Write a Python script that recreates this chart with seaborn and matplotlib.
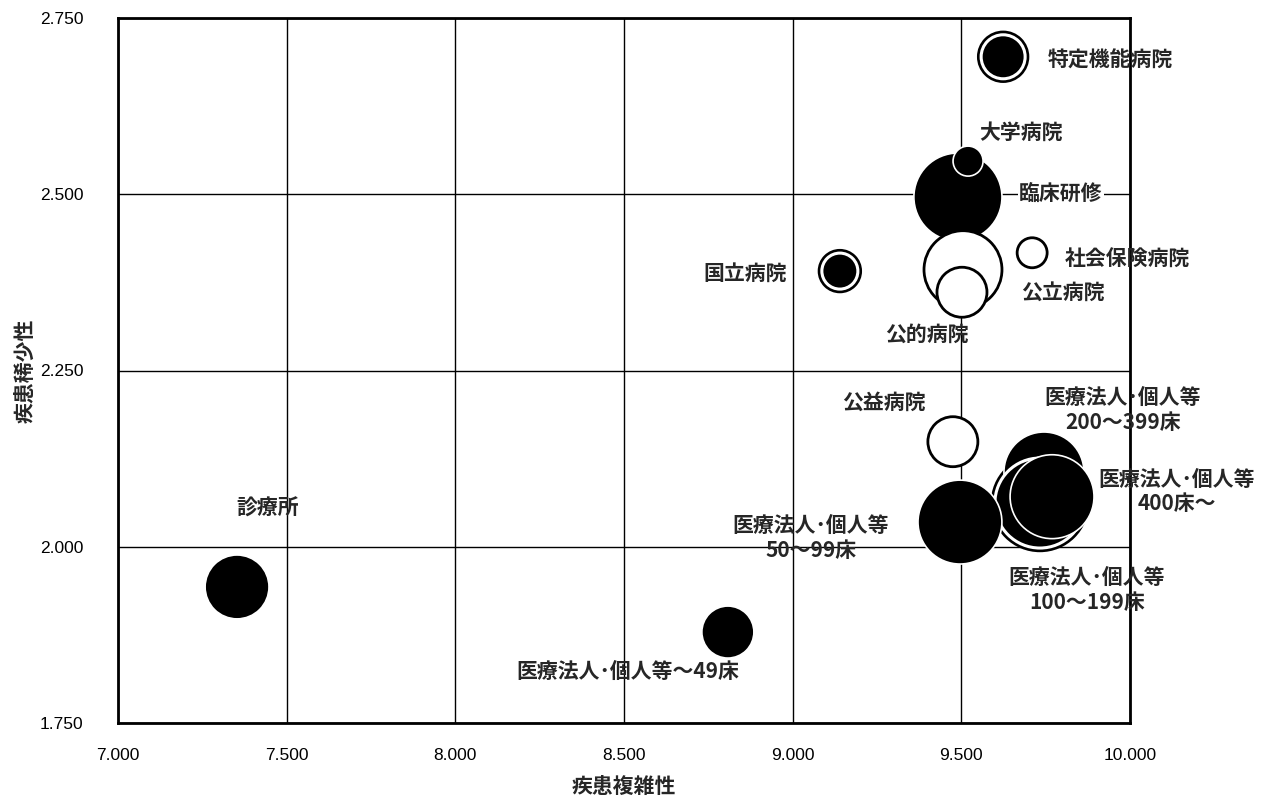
import numpy as np
import pandas as pd
import matplotlib.pyplot as plt
import seaborn as sns
from matplotlib.ticker import FormatStrFormatter

# 病院種別ごとの疾患複雑性・疾患稀少性
names = ["臨床研修", "大学病院", "公立病院", "公的病院", "特定機能病院", "社会保険病院",
         "国立病院", "公益病院", "医療法人･個人等\n200～399床", "医療法人･個人等\n100～199床",
         "医療法人･個人等\n400床～", "医療法人･個人等\n50～99床", "診療所",
         "医療法人･個人等～49床"]
complexity = [9.490, 9.520, 9.505, 9.502, 9.624, 9.710, 9.140, 9.475, 9.745, 9.733,
              9.769, 9.496, 7.353, 8.808]
rarity = [2.496, 2.547, 2.393, 2.361, 2.695, 2.417, 2.391, 2.149, 2.106, 2.062,
          2.071, 2.035, 1.943, 1.879]
# バブルの大きさ(相対値)
bubble = [19.4, 2.25, 15.2, 6.25, 4.84, 2.25, 3.24, 6.25, 16.0, 20.25, 17.6, 17.6,
          10.2, 6.76]
kind = ["黒", "黒", "白", "白", "黒", "白", "黒", "白", "黒", "黒", "黒", "黒", "黒", "黒"]
ringed = ["特定機能病院", "国立病院", "医療法人･個人等\n100～199床"]

df = pd.DataFrame({"name": names, "x": complexity, "y": rarity,
                   "bubble": bubble, "kind": kind})

jp = ["Noto Sans CJK JP", "DejaVu Sans"]
sns.set_style("white")
plt.rcParams["font.family"] = ["Liberation Sans", "Noto Sans CJK JP"]

fig = plt.figure(figsize=(12.81, 8), dpi=100)
ax = fig.add_axes([0.0921, 0.09625, 0.7900, 0.88125])

vmax = max(bubble)
smax = 2.0736 * 100 * vmax
size_kw = dict(size="bubble", sizes=(0, smax), size_norm=(0, vmax), legend=False)

# 二重丸の外側
ring = df[df["name"].isin(ringed)]
sns.scatterplot(data=ring, x="x", y="y", color="black", edgecolor="black",
                linewidth=6, ax=ax, zorder=2, **size_kw)

edges = ["white" if k == "黒" else "black" for k in kind]
widths = [2.2 if n in ringed else (1.2 if k == "黒" else 2.0)
          for n, k in zip(names, kind)]
sns.scatterplot(data=df, x="x", y="y", hue="kind",
                palette={"黒": "black", "白": "white"},
                edgecolor=edges, linewidth=widths, ax=ax, zorder=3, **size_kw)

offsets = {
    "臨床研修": (103, 4),
    "大学病院": (53, 29),
    "公立病院": (100, -23),
    "公的病院": (-35, -42),
    "特定機能病院": (45, -3),
    "社会保険病院": (33, -7),
    "国立病院": (-95, -2),
    "公益病院": (-69, 39),
    "医療法人･個人等\n200～399床": (79, 62),
    "医療法人･個人等\n100～199床": (47, -87),
    "医療法人･個人等\n400床～": (125, 5),
    "医療法人･個人等\n50～99床": (-149, -16),
    "診療所": (31, 79),
    "医療法人･個人等～49床": (-100, -39),
}
left_names = ["特定機能病院", "社会保険病院"]
for n, x, y in zip(names, complexity, rarity):
    kw = {}
    if n == "臨床研修":
        kw["bbox"] = dict(facecolor="white", edgecolor="none", pad=1)
    ax.annotate(n, (x, y), xytext=offsets[n], textcoords="offset pixels",
                ha="left" if n in left_names else "center", va="center",
                fontsize=15, family=jp, fontweight="bold", linespacing=1.2,
                annotation_clip=False, zorder=5, **kw)

ax.set_xlim(7, 10)
ax.set_ylim(1.75, 2.75)
ax.set_xticks(np.arange(7, 10.01, 0.5))
ax.set_yticks(np.arange(1.75, 2.751, 0.25))
ax.xaxis.set_major_formatter(FormatStrFormatter("%.3f"))
ax.yaxis.set_major_formatter(FormatStrFormatter("%.3f"))
ax.grid(True, color="black", linewidth=1)
ax.set_axisbelow(True)
for sp in ax.spines.values():
    sp.set_color("black")
    sp.set_linewidth(2)
ax.tick_params(axis="both", length=0, labelsize=12.5, colors="black")
ax.tick_params(axis="y", pad=25)
ax.tick_params(axis="x", pad=18)
ax.set_xlabel("疾患複雑性", fontsize=15, family=jp, fontweight="bold", labelpad=9)
ax.set_ylabel("疾患稀少性", fontsize=15, family=jp, fontweight="bold", labelpad=3)

fig.savefig("out.png", dpi=100)
